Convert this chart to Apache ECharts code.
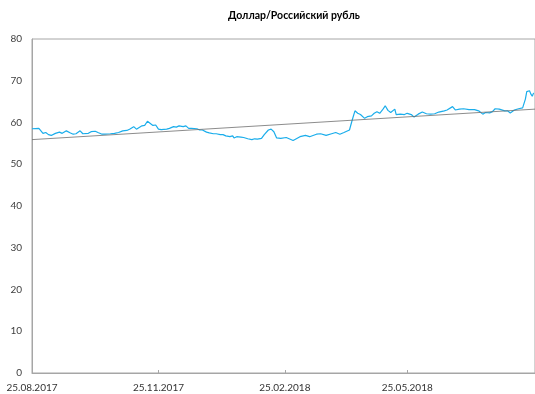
<!DOCTYPE html>
<html>
<head>
<meta charset="utf-8">
<script src="https://cdn.jsdelivr.net/npm/echarts@6/dist/echarts.min.js"></script>
<style>
  html, body { margin: 0; padding: 0; background: #fff; }
  #chart { width: 535px; height: 394px; }
</style>
</head>
<body>
<div id="chart"></div>
<script>
// курс USD/RUB, дни от 25.08.2017
var startDate = [2017, 7, 25]
var dayOffsets = [
  0, 5, 8, 10, 12, 14, 17, 20, 22, 25, 28, 30, 32, 35, 37, 38, 41, 43, 46, 48,
  51, 53, 57, 60, 63, 66, 69, 71, 74, 76, 77, 80, 82, 84, 85, 88, 90, 92, 94, 98,
  100, 103, 105, 107, 110, 112, 114, 116, 120, 122, 124, 127, 129, 132, 134, 137, 139, 141, 144, 146,
  147, 149, 152, 154, 157, 160, 162, 164, 167, 169, 172, 174, 176, 178, 181, 185, 190, 195, 199, 202,
  207, 210, 214, 218, 221, 224, 227, 231, 233, 235, 237, 239, 242, 244, 247, 249, 251, 253, 255, 257,
  259, 261, 264, 265, 268, 271, 273, 276, 278, 281, 284, 287, 290, 293, 296, 300, 302, 306, 308, 311,
  314, 318, 322, 325, 328, 330, 333, 335, 337, 340, 344, 346, 348, 351, 354, 357, 359, 360, 362, 363,
  364, 365
]
var rates = [
  58.5, 58.6, 57.4, 57.6, 57.1, 56.9, 57.4, 57.7, 57.4, 58.0, 57.5, 57.2, 57.3, 58.0, 57.3, 57.6, 57.4, 57.8, 57.9, 57.6,
  57.2, 57.2, 57.3, 57.4, 57.6, 58.0, 58.1, 58.4, 59.0, 58.4, 58.7, 59.2, 59.3, 60.3, 59.9, 59.3, 59.4, 58.4, 58.3, 58.4,
  58.6, 59.0, 58.9, 59.2, 59.0, 59.2, 58.6, 58.6, 58.5, 58.2, 58.2, 57.7, 57.5, 57.3, 57.3, 57.1, 57.1, 56.8, 56.6, 56.8,
  56.3, 56.6, 56.5, 56.4, 56.1, 55.9, 56.1, 56.0, 56.2, 57.1, 58.2, 58.4, 57.8, 56.3, 56.2, 56.4, 55.7, 56.6, 56.9, 56.6,
  57.2, 57.3, 56.9, 57.3, 57.6, 57.2, 57.6, 58.2, 60.6, 62.8, 62.2, 61.9, 61.0, 61.4, 61.6, 62.2, 62.6, 62.2, 63.0, 64.0,
  62.9, 62.4, 63.2, 61.9, 62.0, 61.9, 62.2, 61.9, 61.3, 62.0, 62.5, 62.1, 62.0, 62.1, 62.5, 62.8, 63.0, 63.8, 63.0, 63.2,
  63.3, 63.1, 63.1, 62.8, 62.0, 62.4, 62.3, 62.6, 63.3, 63.2, 62.8, 62.8, 62.3, 63.0, 63.3, 63.5, 65.6, 67.4, 67.6, 66.8,
  66.3, 67.1
]
// линия тренда
var trendDays = [0, 366]
var trendValues = [55.9, 63.2]
// подписи оси X (смещение в днях): 25.08.2017, 25.11.2017, 25.02.2018, 25.05.2018
var tickDays = [0, 92, 184, 273]
var yTicks = { min: 0, max: 80, interval: 10 }

var DAY = 86400000
var t0 = Date.UTC(startDate[0], startDate[1], startDate[2])
function pad(n) {
  return n < 10 ? '0' + n : '' + n
}
function dayLabel(v) {
  var d = new Date(t0 + Math.round(v) * DAY)
  return pad(d.getUTCDate()) + '.' + pad(d.getUTCMonth() + 1) + '.' + d.getUTCFullYear()
}

var chart = echarts.init(document.getElementById('chart'))
chart.setOption({
  animation: false,
  textStyle: { fontFamily: 'Lato' },
  title: {
    text: 'Доллар/Российский рубль',
    left: 223,
    top: 5,
    textStyle: { fontSize: 10.5, fontWeight: 'bold', color: '#000', fontFamily: 'Lato' }
  },
  grid: {
    left: 32,
    right: -1,
    top: 39,
    bottom: 21,
    show: true,
    borderColor: '#a6a6a6',
    borderWidth: 1
  },
  xAxis: {
    type: 'value',
    min: trendDays[0],
    max: trendDays[1],
    axisLine: { lineStyle: { color: '#a6a6a6' } },
    axisTick: {
      inside: true,
      length: 3,
      lineStyle: { color: '#a6a6a6' },
      customValues: tickDays
    },
    axisLabel: {
      fontSize: 10,
      color: '#333',
      margin: 10,
      customValues: tickDays,
      formatter: dayLabel
    },
    splitLine: { show: false }
  },
  yAxis: {
    type: 'value',
    min: yTicks.min,
    max: yTicks.max,
    interval: yTicks.interval,
    axisLine: { show: true, lineStyle: { color: '#a6a6a6' } },
    axisTick: { show: false },
    axisLabel: { fontSize: 10, color: '#404040', margin: 10 },
    splitLine: { show: false }
  },
  series: [{
    name: 'USD/RUB',
    type: 'line',
    showSymbol: false,
    lineStyle: { color: '#1aadeb', width: 1.2 },
    data: dayOffsets.map(function(d, i) { return [d, rates[i]] })
  }, {
    name: 'trend',
    type: 'line',
    showSymbol: false,
    lineStyle: { color: '#6e6e6e', width: 0.8 },
    data: trendDays.map(function(d, i) { return [d, trendValues[i]] })
  }]
})
</script>
</body>
</html>
